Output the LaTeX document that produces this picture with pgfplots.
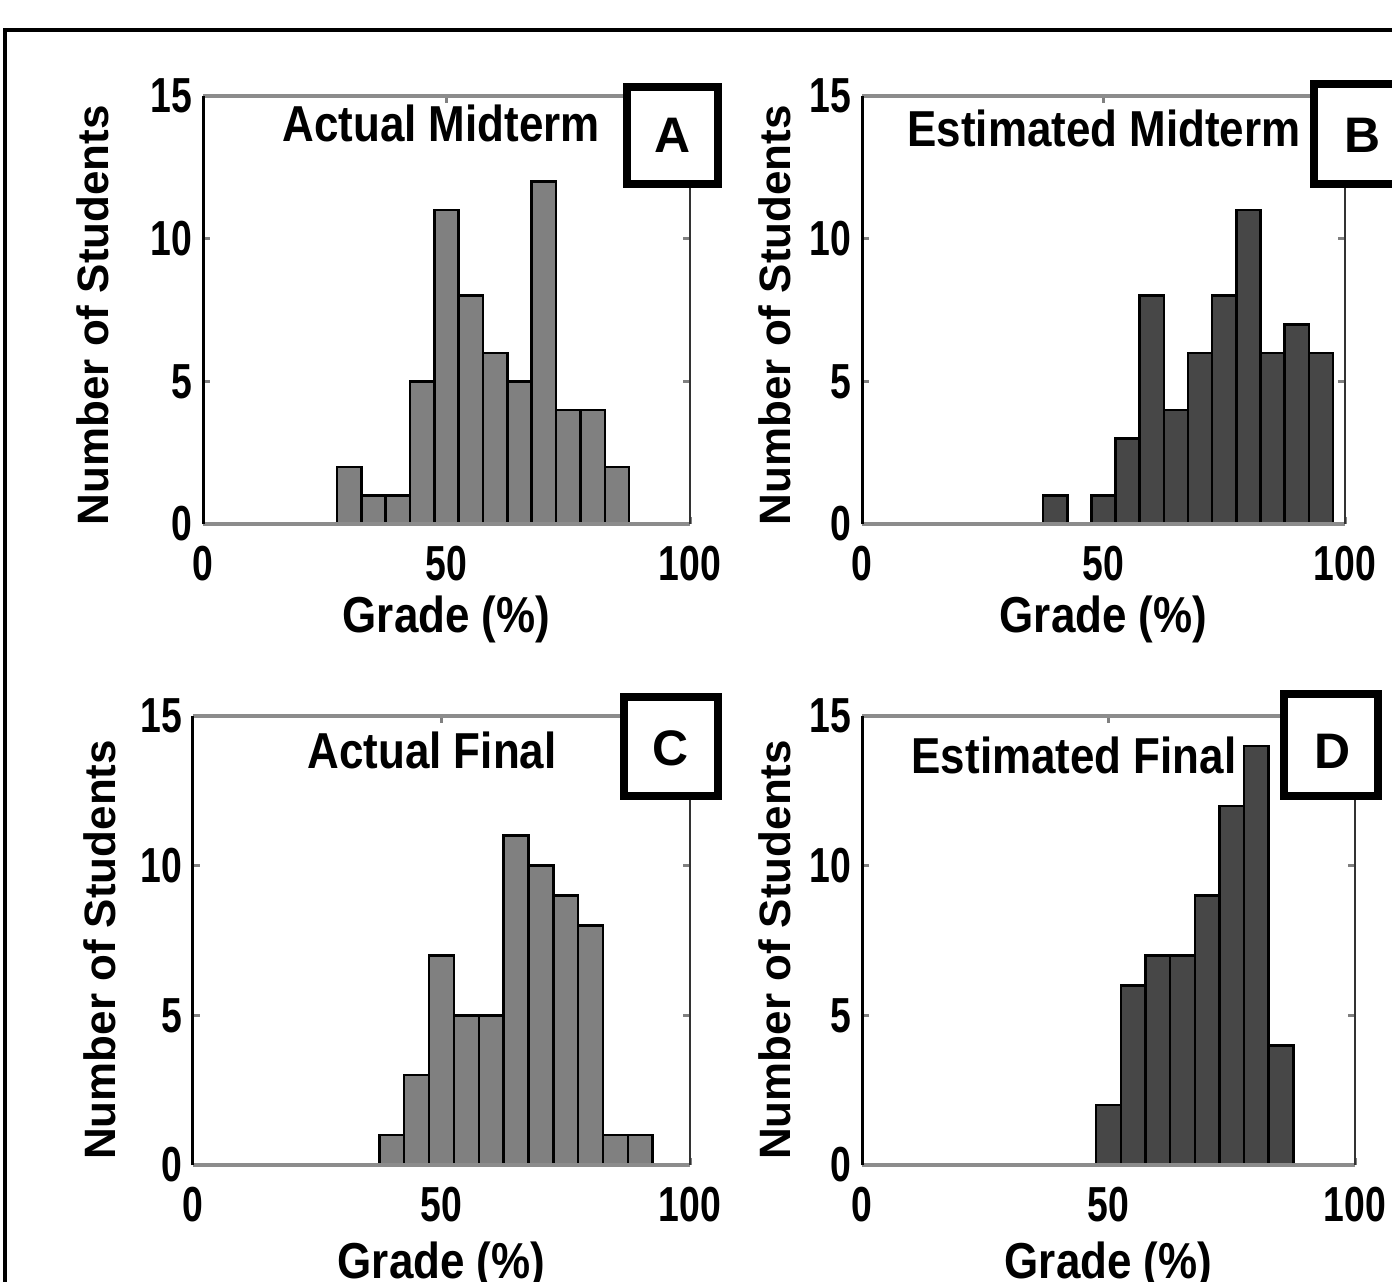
\documentclass[border=0pt]{standalone}
\usepackage{pgfplots}
\pgfplotsset{compat=1.18}
\usepackage{fontspec}
\setmainfont{Liberation Sans}
\newcommand\F{\fontsize{12.5}{14}\selectfont\bfseries}
\newcommand\FL{\fontsize{14.2}{16}\selectfont\bfseries}
\definecolor{gA}{HTML}{808080}
\definecolor{gB}{HTML}{474747}
\definecolor{axg}{HTML}{8C8C8C}
\pgfplotsset{
  hist/.style={
    scale only axis, xmin=0, xmax=100, ymin=0, ymax=15,
    xtick={0,50,100}, ytick={0,5,10,15},
    axis line style={draw=none},
    tick align=inside, major tick length=0.07cm,
    tick style={draw=gray, line width=0.03cm},
    clip=false,
    /pgf/number format/assume math mode=true,
    ticklabel style={font=\F, xscale=0.85, yscale=1.12},
    xticklabel style={yshift=-0.07cm},
    xlabel={Grade (\%)}, ylabel={Number of Students},
    label style={font=\F},
    xlabel style={at={(axis description cs:0.5,-0.224)}, anchor=center, yscale=1.15},
  },
  bars/.style={ybar, bar width=5, bar shift=0pt, draw=black, line width=0.025cm, fill=#1},
}
\newcommand\frameaxis{%
  \draw[axg, line width=0.045cm] (rel axis cs:0,0) -- (rel axis cs:1,0);
  \draw[axg, line width=0.045cm] (rel axis cs:0,1) -- (rel axis cs:1,1);
  \draw[black, line width=0.03cm] (rel axis cs:0,0) -- (rel axis cs:0,1);
  \draw[black!80, line width=0.025cm] (rel axis cs:1,0) -- (rel axis cs:1,1);
}
\begin{document}
\begin{tikzpicture}
\useasboundingbox (0,0) rectangle (13.92,12.81);
\clip (0,0) rectangle (13.92,12.81);
\fill[white] (0,0) rectangle (13.92,12.81);
% outer frame
\draw[black, line width=0.04cm] (0.05,-1) -- (0.05,12.51) -- (15,12.51);

% A
\begin{axis}[hist, at={(2.03cm,7.57cm)}, anchor=south west, width=4.87cm, height=4.28cm,
  ylabel style={at={(axis description cs:-0.226,0.488)}, anchor=center, rotate=0}]
\addplot[bars=gA] coordinates {(30,2) (35,1) (40,1) (45,5) (50,11) (55,8) (60,6) (65,5) (70,12) (75,4) (80,4) (85,2)};
\frameaxis
\node[font=\F, yscale=1.15] at (rel axis cs:0.489,0.937) {Actual Midterm};
\end{axis}

% B
\begin{axis}[hist, at={(8.62cm,7.57cm)}, anchor=south west, width=4.83cm, height=4.28cm,
  ylabel style={at={(axis description cs:-0.180,0.488)}, anchor=center}]
\addplot[bars=gB] coordinates {(40,1) (50,1) (55,3) (60,8) (65,4) (70,6) (75,8) (80,11) (85,6) (90,7) (95,6)};
\frameaxis
\node[font=\F, yscale=1.15] at (rel axis cs:0.501,0.925) {Estimated Midterm};
\end{axis}

% C
\begin{axis}[hist, at={(1.93cm,1.16cm)}, anchor=south west, width=4.97cm, height=4.49cm,
  ylabel style={at={(axis description cs:-0.187,0.479)}, anchor=center}]
\addplot[bars=gA] coordinates {(40,1) (45,3) (50,7) (55,5) (60,5) (65,11) (70,10) (75,9) (80,8) (85,1) (90,1)};
\frameaxis
\node[font=\F, yscale=1.15] at (rel axis cs:0.481,0.924) {Actual Final};
\end{axis}

% D
\begin{axis}[hist, at={(8.62cm,1.16cm)}, anchor=south west, width=4.93cm, height=4.49cm,
  ylabel style={at={(axis description cs:-0.176,0.479)}, anchor=center}]
\addplot[bars=gB] coordinates {(50,2) (55,6) (60,7) (65,7) (70,9) (75,12) (80,14) (85,4)};
\frameaxis
\node[font=\F, yscale=1.15] at (rel axis cs:0.43,0.913) {Estimated Final};
\end{axis}

% letter boxes
\draw[black, line width=0.08cm, fill=white] (6.27,11.94) rectangle (7.18,10.97);
\node[font=\FL] at (6.725,11.455) {A};
\draw[black, line width=0.08cm, fill=white] (13.14,11.97) rectangle (14.10,10.97);
\node[font=\FL] at (13.62,11.46) {B};
\draw[black, line width=0.08cm, fill=white] (6.24,5.84) rectangle (7.18,4.85);
\node[font=\FL] at (6.71,5.33) {C};
\draw[black, line width=0.08cm, fill=white] (12.84,5.87) rectangle (13.78,4.85);
\node[font=\FL] at (13.32,5.30) {D};
\end{tikzpicture}
\end{document}
